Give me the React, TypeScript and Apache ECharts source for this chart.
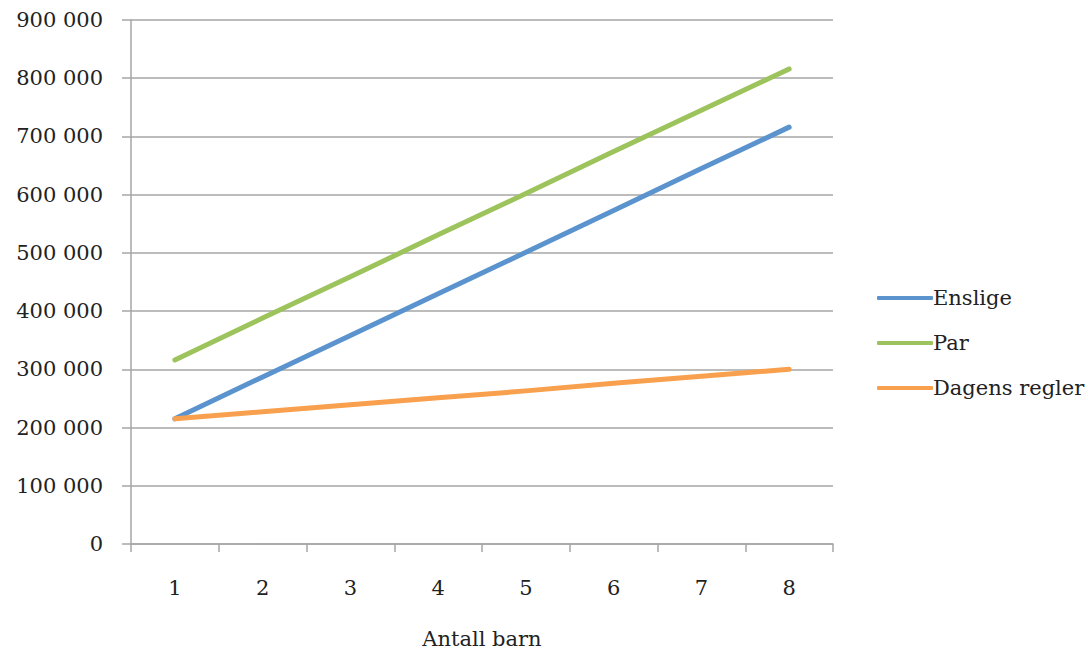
import React, { useEffect, useRef } from "react";
import * as echarts from "echarts";

const categories = ["1", "2", "3", "4", "5", "6", "7", "8"];
const enslige = [215000, 287000, 358000, 430000, 501000, 573000, 645000, 716000];
const par = [316000, 388000, 459000, 531000, 602000, 674000, 745000, 816000];
const dagensRegler = [215000, 227000, 239000, 251000, 263000, 276000, 288000, 300000];
const xAxisName = "Antall barn";

const FONT = "DejaVu Serif";
const GRAY = "#a6a6a6";

export default function App() {
  const ref = useRef<HTMLDivElement>(null);
  useEffect(() => {
    if (!ref.current) return;
    const chart = echarts.init(ref.current, null, { renderer: "svg" });
    const mk = (name: string, data: number[], color: string) => ({
      name,
      type: "line",
      data,
      symbol: "none",
      color,
      lineStyle: { width: 5, color, cap: "round", join: "round" },
    });
    chart.setOption({
      animation: false,
      backgroundColor: "#ffffff",
      textStyle: { fontFamily: FONT },
      grid: { left: 131, right: 255, top: 20, bottom: 106, containLabel: false },
      legend: {
        orient: "vertical",
        left: 872,
        top: 281,
        itemWidth: 56,
        itemHeight: 4,
        itemGap: 21,
        icon: "roundRect",
        textStyle: { fontFamily: FONT, fontSize: 21, color: "#222", padding: [0, 0, 0, -5], lineHeight: 24 },
        data: ["Enslige", "Par", "Dagens regler"],
      },
      xAxis: {
        type: "category",
        data: categories,
        boundaryGap: true,
        name: xAxisName,
        nameLocation: "middle",
        nameGap: 84,
        nameTextStyle: { fontFamily: FONT, fontSize: 21, color: "#222" },
        axisLine: { show: true, lineStyle: { color: GRAY, width: 1.5 } },
        axisTick: { show: true, length: 8, inside: false, alignWithLabel: false, lineStyle: { color: GRAY, width: 1.5 } },
        axisLabel: { fontFamily: FONT, fontSize: 21, color: "#222", margin: 33 },
        splitLine: { show: false },
      },
      yAxis: {
        type: "value",
        min: 0,
        max: 900000,
        interval: 100000,
        axisLine: { show: true, lineStyle: { color: GRAY, width: 1.5 } },
        axisTick: { show: true, length: 9, inside: false, lineStyle: { color: GRAY, width: 1.5 } },
        axisLabel: {
          fontFamily: FONT,
          fontSize: 21,
          color: "#222",
          margin: 28,
          formatter: (v: number) => String(v).replace(/\B(?=(\d{3})+(?!\d))/g, " "),
        },
        splitLine: { show: true, lineStyle: { color: GRAY, width: 1.5 } },
      },
      series: [
        mk("Enslige", enslige, "#5a93cd"),
        mk("Par", par, "#9dc35c"),
        mk("Dagens regler", dagensRegler, "#f8a04e"),
      ],
    });
    return () => chart.dispose();
  }, []);
  return <div ref={ref} style={{ position: "fixed", left: 0, top: 0, width: 1088, height: 654 }} />;
}
